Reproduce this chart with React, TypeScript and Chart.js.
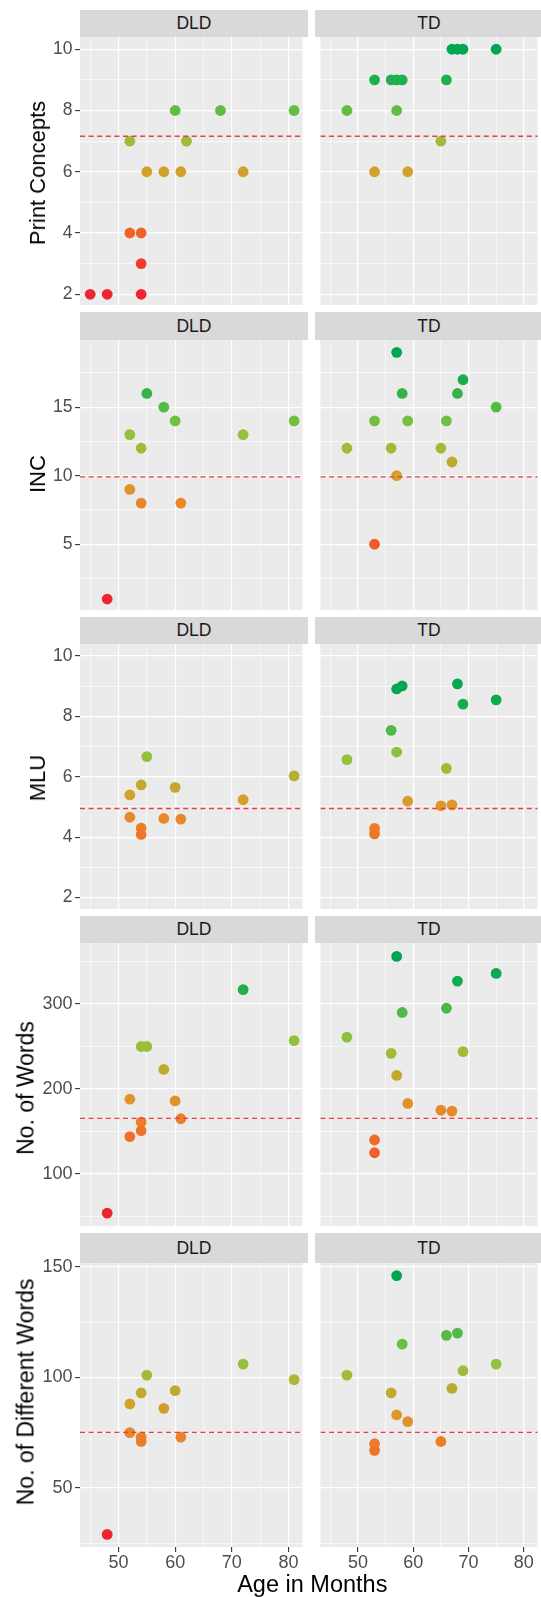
import React, { useEffect, useRef } from 'react';
import { Chart, registerables } from 'chart.js';

Chart.register(...registerables);

const FONT = '"Liberation Sans", Arial, Helvetica, sans-serif';

// ---------------- Data ----------------
const groups = ['DLD', 'TD'];
const rowLabels = ['Print Concepts', 'INC', 'MLU', 'No. of Words', 'No. of Different Words'];

const ageLimits = [43.2, 82.5];
const ageMajorTicks = [50, 60, 70, 80];
const ageMinorTicks = [45, 55, 65, 75];

// Print Concepts
const pcDldAge = [45, 48, 54, 54, 52, 54, 52, 55, 58, 61, 72, 60, 62, 68, 81];
const pcDld = [2, 2, 2, 3, 4, 4, 7, 6, 6, 6, 6, 8, 7, 8, 8];
const pcTdAge = [48, 53, 53, 56, 57, 58, 57, 59, 65, 66, 67, 68, 69, 75];
const pcTd = [8, 9, 6, 9, 9, 9, 8, 6, 7, 9, 10, 10, 10, 10];

// INC
const incDldAge = [48, 52, 54, 61, 52, 54, 55, 58, 60, 72, 81];
const incDld = [1, 9, 8, 8, 13, 12, 16, 15, 14, 13, 14];
const incTdAge = [48, 53, 53, 56, 57, 57, 58, 59, 65, 66, 67, 68, 69, 75];
const incTd = [12, 14, 5, 12, 19, 10, 16, 14, 12, 14, 11, 16, 17, 15];

// MLU
const mluDldAge = [52, 52, 54, 54, 54, 55, 58, 60, 61, 72, 81];
const mluDld = [5.4, 4.66, 5.73, 4.3, 4.09, 6.67, 4.62, 5.65, 4.6, 5.24, 6.03];
const mluTdAge = [48, 53, 53, 56, 57, 58, 57, 59, 65, 66, 67, 68, 69, 75];
const mluTd = [6.57, 4.29, 4.11, 7.54, 8.91, 9.01, 6.82, 5.19, 5.04, 6.28, 5.07, 9.08, 8.41, 8.55];

// No. of Words
const nwDldAge = [48, 52, 52, 54, 54, 54, 55, 58, 60, 61, 72, 81];
const nwDld = [54, 188, 144, 161, 151, 250, 250, 223, 186, 165, 317, 257];
const nwTdAge = [48, 53, 53, 56, 57, 57, 58, 59, 65, 66, 67, 68, 69, 75];
const nwTd = [261, 140, 125, 242, 356, 216, 290, 183, 175, 295, 174, 327, 244, 336];

// No. of Different Words
const ndwDldAge = [48, 52, 52, 54, 54, 54, 55, 58, 60, 61, 72, 81];
const ndwDld = [29, 88, 75, 93, 73, 71, 101, 86, 94, 73, 106, 99];
const ndwTdAge = [48, 53, 53, 56, 57, 57, 58, 59, 65, 66, 67, 68, 69, 75];
const ndwTd = [101, 70, 67, 93, 146, 83, 115, 80, 71, 119, 95, 120, 103, 106];

const cutoffs = [7.16, 9.92, 4.95, 165.5, 75.1];
const yLimits = [[1.65, 10.4], [0.2, 19.9], [1.62, 10.4], [38.8, 371.8], [23.3, 151.7]];
const yMajorTicks = [[2, 4, 6, 8, 10], [5, 10, 15], [2, 4, 6, 8, 10], [100, 200, 300], [50, 100, 150]];
const yMinorTicks = [[3, 5, 7, 9], [2.5, 7.5, 12.5, 17.5], [3, 5, 7, 9], [50, 150, 250, 350], [25, 75, 125]];
const colorDomains = [[2, 10], [1, 19], [1.6, 9.2], [54, 356], [29, 146]];

const seriesByRow = [
  [[pcDldAge, pcDld], [pcTdAge, pcTd]],
  [[incDldAge, incDld], [incTdAge, incTd]],
  [[mluDldAge, mluDld], [mluTdAge, mluTd]],
  [[nwDldAge, nwDld], [nwTdAge, nwTd]],
  [[ndwDldAge, ndwDld], [ndwTdAge, ndwTd]],
];

// ---------------- Styles / layout ----------------
const rowBoxes = [
  { stripTop: 10, plotTop: 37, plotBottom: 305, titleCX: 37.6, titleCY: 172.5, titleSize: 22, tickSize: 17.5 },
  { stripTop: 312, plotTop: 340, plotBottom: 610, titleCX: 37.6, titleCY: 473.8, titleSize: 22, tickSize: 17.5 },
  { stripTop: 617, plotTop: 644, plotBottom: 909, titleCX: 37.6, titleCY: 777.5, titleSize: 22, tickSize: 17.5 },
  { stripTop: 916, plotTop: 943, plotBottom: 1226, titleCX: 25.5, titleCY: 1087.5, titleSize: 23, tickSize: 18 },
  { stripTop: 1233, plotTop: 1263, plotBottom: 1547, titleCX: 25.5, titleCY: 1391.7, titleSize: 23, tickSize: 18 },
];
const colBoxes = [
  { left: 0, width: 308, axisWidth: 80 },
  { left: 315, width: 228, axisWidth: 0 },
];
const PAD = 14;
const X_AXIS_H = 30;

const rampStops: [number, string][] = [
  [0, '#EE2530'],
  [0.13, '#EF3E2B'],
  [0.25, '#F1622A'],
  [0.35, '#EC7C27'],
  [0.43, '#E3912A'],
  [0.5, '#D2A12C'],
  [0.56, '#BDAB2F'],
  [0.62, '#A2BB37'],
  [0.68, '#8DC43C'],
  [0.73, '#6CBF44'],
  [0.78, '#52B947'],
  [0.85, '#2AB14B'],
  [0.92, '#0BAA4E'],
  [1, '#00A651'],
];

function hexToRgb(h: string) {
  const n = parseInt(h.slice(1), 16);
  return [(n >> 16) & 255, (n >> 8) & 255, n & 255];
}

function rampColor(v: number, dom: number[]) {
  let t = (v - dom[0]) / (dom[1] - dom[0]);
  t = Math.max(0, Math.min(1, t));
  for (let i = 0; i < rampStops.length - 1; i++) {
    const [t0, c0] = rampStops[i];
    const [t1, c1] = rampStops[i + 1];
    if (t >= t0 && t <= t1) {
      const f = (t - t0) / (t1 - t0);
      const a = hexToRgb(c0);
      const b = hexToRgb(c1);
      const r = a.map((x, k) => Math.round(x + (b[k] - x) * f));
      return `rgb(${r[0]},${r[1]},${r[2]})`;
    }
  }
  return rampStops[rampStops.length - 1][1];
}

const bgPlugin = {
  id: 'panelBg',
  beforeDraw(chart: any) {
    const { ctx, chartArea: a } = chart;
    ctx.save();
    ctx.fillStyle = '#EBEBEB';
    ctx.fillRect(a.left, a.top, a.right - a.left, a.bottom - a.top);
    ctx.restore();
  },
};

type PanelSpec = {
  row: number;
  col: number;
  bottom: boolean;
  left: number;
  top: number;
  w: number;
  h: number;
};

function buildChart(canvas: HTMLCanvasElement, p: PanelSpec) {
  const { row, col, bottom } = p;
  const [xs, ys] = seriesByRow[row][col];
  const [yMin, yMax] = yLimits[row];
  const yMaj = yMajorTicks[row];
  const yAll = [...yMaj, ...yMinorTicks[row]].sort((a, b) => a - b);
  const xAll = [...ageMajorTicks, ...ageMinorTicks].sort((a, b) => a - b);
  const isXMaj = (v: any) => ageMajorTicks.includes(v);
  const isYMaj = (v: any) => yMaj.includes(v);
  const box = rowBoxes[row];
  const showY = col === 0;

  return new Chart(canvas, {
    type: 'scatter',
    data: {
      datasets: [
        {
          type: 'line',
          data: [
            { x: ageLimits[0], y: cutoffs[row] },
            { x: ageLimits[1] + 5, y: cutoffs[row] },
          ],
          borderColor: '#EE3B47',
          borderWidth: 1.3,
          borderDash: [5, 3.6],
          pointRadius: 0,
          fill: false,
          order: 0,
        } as any,
        {
          type: 'scatter',
          data: xs.map((x, i) => ({ x, y: ys[i] })),
          backgroundColor: ys.map((v) => rampColor(v, colorDomains[row])),
          pointRadius: 5.4,
          borderWidth: 0,
          order: 1,
          clip: 8,
        } as any,
      ],
    },
    options: {
      animation: false,
      responsive: false,
      devicePixelRatio: 1,
      events: [],
      layout: { padding: { top: PAD, bottom: bottom ? 0 : PAD, left: 0, right: 0 } },
      plugins: { legend: { display: false }, tooltip: { enabled: false } },
      scales: {
        x: {
          type: 'linear',
          min: ageLimits[0],
          max: ageLimits[1],
          afterBuildTicks: (s: any) => {
            s.ticks = xAll.map((v) => ({ value: v }));
          },
          afterFit: (s: any) => {
            s.height = bottom ? X_AXIS_H : 0;
            s.paddingLeft = 0;
            s.paddingRight = 0;
            s.paddingTop = 0;
            s.paddingBottom = 0;
          },
          border: { display: false },
          grid: {
            color: '#FFFFFF',
            lineWidth: (c: any) => (c.tick && isXMaj(c.tick.value) ? 1.2 : 0.6),
            drawTicks: bottom,
            tickLength: 5,
            tickWidth: 1.1,
            tickColor: (c: any) => (c.tick && isXMaj(c.tick.value) ? '#333333' : 'rgba(0,0,0,0)'),
          },
          ticks: {
            display: bottom,
            autoSkip: false,
            maxRotation: 0,
            padding: 0,
            color: '#4D4D4D',
            font: { family: FONT, size: 18 },
            callback: (v: any) => (isXMaj(v) ? String(v) : ''),
          },
        },
        y: {
          type: 'linear',
          min: yMin,
          max: yMax,
          afterBuildTicks: (s: any) => {
            s.ticks = yAll.map((v) => ({ value: v }));
          },
          afterFit: (s: any) => {
            s.width = colBoxes[col].axisWidth;
            s.paddingLeft = 0;
            s.paddingRight = 0;
            s.paddingTop = 0;
            s.paddingBottom = 0;
          },
          border: { display: false },
          grid: {
            color: '#FFFFFF',
            lineWidth: (c: any) => (c.tick && isYMaj(c.tick.value) ? 1.2 : 0.6),
            drawTicks: showY,
            tickLength: 5,
            tickWidth: 1.1,
            tickColor: (c: any) => (c.tick && isYMaj(c.tick.value) ? '#333333' : 'rgba(0,0,0,0)'),
          },
          ticks: {
            display: showY,
            autoSkip: false,
            padding: 2.5,
            color: '#4D4D4D',
            font: { family: FONT, size: box.tickSize },
            callback: (v: any) => (isYMaj(v) ? String(v) : ''),
          },
        },
      },
    } as any,
    plugins: [bgPlugin],
  });
}

function Panel({ spec }: { spec: PanelSpec }) {
  const ref = useRef<HTMLCanvasElement>(null);
  useEffect(() => {
    const chart = buildChart(ref.current as HTMLCanvasElement, spec);
    return () => chart.destroy();
  }, []);
  return (
    <canvas
      ref={ref}
      width={spec.w}
      height={spec.h}
      style={{ position: 'absolute', left: spec.left, top: spec.top, width: spec.w, height: spec.h }}
    />
  );
}

export default function App() {
  const items: React.ReactNode[] = [];
  rowBoxes.forEach((b, r) => {
    const bottom = r === rowBoxes.length - 1;
    colBoxes.forEach((c, ci) => {
      const plotLeft = c.left + c.axisWidth;
      const plotW = c.width - c.axisWidth;
      items.push(
        <div
          key={`strip-${r}-${ci}`}
          style={{
            position: 'absolute',
            left: plotLeft,
            top: b.stripTop,
            width: plotW,
            height: b.plotTop - b.stripTop,
            background: '#D9D9D9',
            color: '#1A1A1A',
            fontSize: 17.5,
            display: 'flex',
            alignItems: 'center',
            justifyContent: 'center',
            fontFamily: FONT,
          }}
        >
          {groups[ci]}
        </div>
      );
      const spec: PanelSpec = {
        row: r,
        col: ci,
        bottom,
        left: c.left,
        top: b.plotTop - PAD,
        w: c.width,
        h: b.plotBottom - b.plotTop + PAD + (bottom ? X_AXIS_H : PAD),
      };
      items.push(<Panel key={`panel-${r}-${ci}`} spec={spec} />);
    });
    items.push(
      <div
        key={`ytitle-${r}`}
        style={{
          position: 'absolute',
          left: b.titleCX,
          top: b.titleCY,
          transform: 'translate(-50%, -50%) rotate(-90deg)',
          fontSize: b.titleSize,
          lineHeight: `${b.titleSize}px`,
          whiteSpace: 'nowrap',
          color: '#000',
          fontFamily: FONT,
        }}
      >
        {rowLabels[r]}
      </div>
    );
  });
  items.push(
    <div
      key="xtitle"
      style={{
        position: 'absolute',
        left: 312.3,
        top: 1572.8,
        transform: 'translateX(-50%)',
        fontSize: 23.5,
        lineHeight: '23.5px',
        whiteSpace: 'nowrap',
        color: '#000',
        fontFamily: FONT,
      }}
    >
      Age in Months
    </div>
  );
  return (
    <div
      style={{
        position: 'absolute',
        left: 0,
        top: 0,
        width: 541,
        height: 1597,
        overflow: 'hidden',
        background: '#FFFFFF',
        fontFamily: FONT,
      }}
    >
      {items}
    </div>
  );
}
